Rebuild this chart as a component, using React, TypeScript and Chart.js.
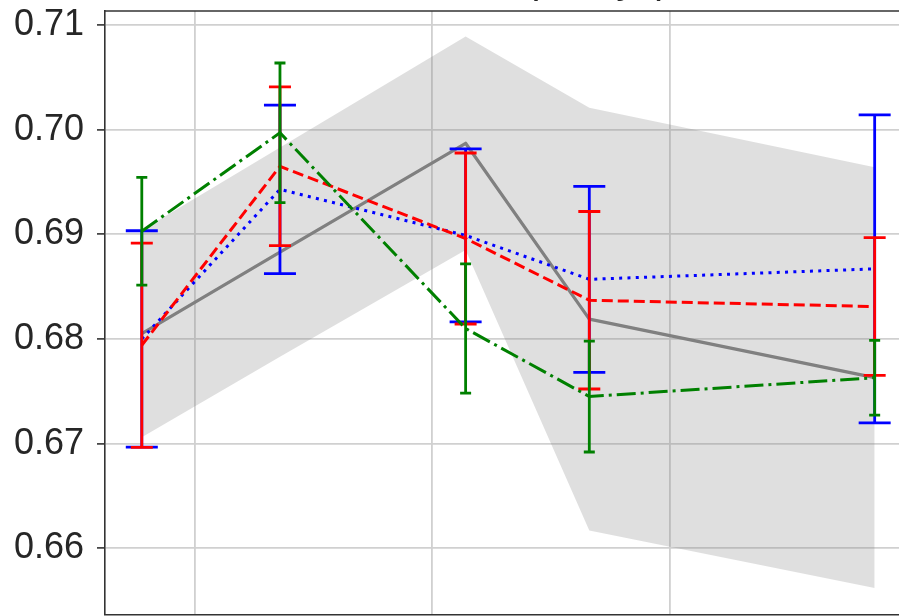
import React, { useEffect, useRef } from "react";
import { Chart, registerables } from "chart.js";

Chart.register(...registerables);

const titleText = "Mean test score (5 days)";
const xValues = [0.776, 1.358, 2.14, 2.661, 3.863];
const xTickValues = [1, 2, 3, 4];
const yTickValues = [0.66, 0.67, 0.68, 0.69, 0.7, 0.71];
const grayMean = [0.6805, 0.6883, 0.6987, 0.6819, 0.6763];
const grayStd = [0.0099, 0.01, 0.0102, 0.0202, 0.0201];
const redMean = [0.6794, 0.6965, 0.6896, 0.6837, 0.6831];
const redErr = [0.00975, 0.00758, 0.00817, 0.00848, 0.00658];
const blueMean = [0.68, 0.6943, 0.6899, 0.6857, 0.6867];
const blueErr = [0.01034, 0.00805, 0.00827, 0.00889, 0.01472];
const greenMean = [0.6903, 0.6997, 0.681, 0.6745, 0.6763];
const greenErr = [0.00515, 0.00667, 0.00618, 0.0053, 0.00357];
const xRange = [0.621, 3.9655];
const yRange = [0.65369, 0.71134];

const FRAME = "#333333";
const GRID = "#d0d0d0";
const TEXT = "#262626";

const toPoints = (ys: number[]) => ys.map((y, i) => ({ x: xValues[i], y }));

const errorBarPlugin = {
  id: "errorBars",
  afterDatasetDraw(chart: any, args: any) {
    const ds = chart.data.datasets[args.index];
    if (!ds.errors) return;
    const xs = chart.scales.x;
    const ys = chart.scales.y;
    const ctx = chart.ctx;
    ctx.save();
    ctx.strokeStyle = ds.borderColor;
    ctx.lineWidth = 2.8;
    ctx.setLineDash([]);
    ctx.lineCap = "butt";
    ds.data.forEach((pt: any, i: number) => {
      const px = xs.getPixelForValue(pt.x);
      const top = ys.getPixelForValue(pt.y + ds.errors[i]);
      const bot = ys.getPixelForValue(pt.y - ds.errors[i]);
      ctx.beginPath();
      ctx.moveTo(px, top);
      ctx.lineTo(px, bot);
      ctx.moveTo(px - ds.capHalf, top);
      ctx.lineTo(px + ds.capHalf, top);
      ctx.moveTo(px - ds.capHalf, bot);
      ctx.lineTo(px + ds.capHalf, bot);
      ctx.stroke();
    });
    ctx.restore();
  },
};

const framePlugin = {
  id: "topFrame",
  afterDraw(chart: any) {
    const { ctx, chartArea } = chart;
    ctx.save();
    ctx.strokeStyle = FRAME;
    ctx.lineWidth = 1.6;
    ctx.beginPath();
    ctx.moveTo(chartArea.left - 0.8, chartArea.top);
    ctx.lineTo(chartArea.right, chartArea.top);
    ctx.stroke();
    ctx.restore();
  },
};

const OFFSET = 42;
const W = 899;
const H = 616 + OFFSET;

export default function App() {
  const ref = useRef<HTMLCanvasElement | null>(null);
  useEffect(() => {
    if (!ref.current) return;
    const upper = grayMean.map((m, i) => m + grayStd[i]);
    const lower = grayMean.map((m, i) => m - grayStd[i]);
    const chart = new Chart(ref.current, {
      type: "line",
      data: {
        datasets: [
          {
            label: "upper",
            data: toPoints(upper),
            borderWidth: 0,
            pointRadius: 0,
            fill: false,
            order: 11,
          },
          {
            label: "lower",
            data: toPoints(lower),
            borderWidth: 0,
            pointRadius: 0,
            fill: 0,
            backgroundColor: "rgba(128,128,128,0.25)",
            order: 10,
          },
          {
            label: "gray",
            data: toPoints(grayMean),
            borderColor: "#808080",
            borderWidth: 3.2,
            borderJoinStyle: "round",
            pointRadius: 0,
            fill: false,
            order: 9,
          },
          {
            label: "blue",
            data: toPoints(blueMean),
            borderColor: "#0000ff",
            borderWidth: 3,
            borderDash: [3, 5.3],
            pointRadius: 0,
            fill: false,
            order: 3,
            errors: blueErr,
            capHalf: 16,
          } as any,
          {
            label: "red",
            data: toPoints(redMean),
            borderColor: "#ff0000",
            borderWidth: 3,
            borderDash: [11, 5],
            pointRadius: 0,
            fill: false,
            order: 2,
            errors: redErr,
            capHalf: 11,
          } as any,
          {
            label: "green",
            data: toPoints(greenMean),
            borderColor: "#008000",
            borderWidth: 3,
            borderDash: [19, 5, 3, 5],
            pointRadius: 0,
            fill: false,
            order: 1,
            errors: greenErr,
            capHalf: 5.5,
          } as any,
        ],
      },
      options: {
        responsive: false,
        animation: false,
        parsing: false as any,
        layout: { padding: { left: 0, right: 0, top: 0, bottom: 1.7 } },
        plugins: {
          legend: { display: false },
          tooltip: { enabled: false },
          title: {
            display: true,
            text: titleText,
            fullSize: true,
            color: TEXT,
            font: { family: "'Liberation Sans', Arial, sans-serif", size: 40, weight: "normal" as any },
            padding: { top: 0, bottom: 5 },
          },
        },
        scales: {
          x: {
            type: "linear",
            min: xRange[0],
            max: xRange[1],
            afterBuildTicks: (scale: any) => {
              scale.ticks = xTickValues.map((v) => ({ value: v }));
            },
            afterFit: (scale: any) => {
              scale.height = 0;
              scale.paddingLeft = 0;
              scale.paddingRight = 0;
            },
            ticks: { display: false },
            grid: { color: GRID, lineWidth: 1.8, drawTicks: false },
            border: { display: true, color: FRAME, width: 1.6 },
          },
          y: {
            type: "linear",
            min: yRange[0],
            max: yRange[1],
            afterBuildTicks: (scale: any) => {
              scale.ticks = yTickValues.map((v) => ({ value: v }));
            },
            afterFit: (scale: any) => {
              scale.width = 105;
              scale.paddingTop = 0;
              scale.paddingBottom = 0;
            },
            ticks: {
              color: TEXT,
              padding: 13,
              font: { family: "'Liberation Sans', Arial, sans-serif", size: 36 },
              callback: (v: any) => Number(v).toFixed(2),
            },
            grid: {
              color: GRID,
              lineWidth: 1.8,
              drawTicks: true,
              tickLength: 8,
              tickColor: FRAME,
              tickWidth: 1.6,
            },
            border: { display: true, color: FRAME, width: 1.6 },
          },
        },
      },
      plugins: [errorBarPlugin, framePlugin],
    });
    return () => chart.destroy();
  }, []);

  return (
    <div style={{ position: "absolute", left: 0, top: -OFFSET, width: W, height: H, overflow: "hidden" }}>
      <canvas ref={ref} width={W} height={H} style={{ width: W, height: H, display: "block" }} />
    </div>
  );
}
